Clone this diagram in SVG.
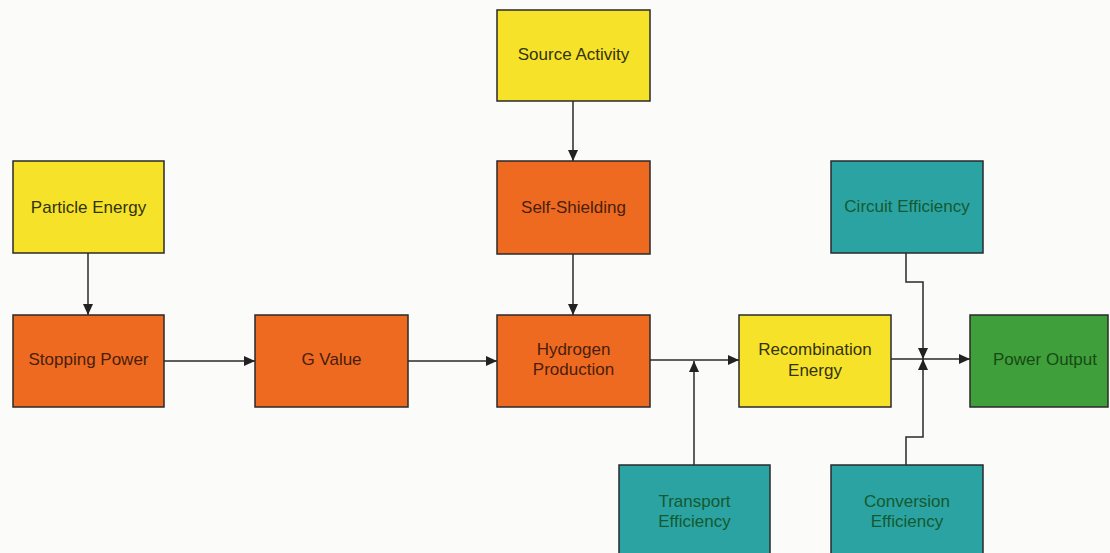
<svg xmlns="http://www.w3.org/2000/svg" width="1110" height="553" viewBox="0 0 1110 553">
<style>
.box{stroke:#2a2a2a;stroke-width:1.5}
.y{fill:#f6e229}
.o{fill:#ee6a21}
.t{fill:#2ba3a2}
.g{fill:#3f9f3a}
text{font-family:"Liberation Sans",Arial,sans-serif;font-size:17px;text-anchor:middle}
.ty{fill:#33330f}
.to{fill:#4a1e0c}
.tt{fill:#145a30}
.tg{fill:#174a14}
.c{fill:none;stroke:#2a2a2a;stroke-width:1.5}
</style>
<defs>
<marker id="ah" viewBox="0 0 11 10" refX="11" refY="5" markerWidth="11" markerHeight="10" markerUnits="userSpaceOnUse" orient="auto">
<path d="M0,0 L11,5 L0,10 z" fill="#222"/>
</marker>
</defs>
<rect width="1110" height="553" fill="#fbfbfa"/>
<g id="connectors">
<line class="c" x1="88" y1="253" x2="88" y2="315" marker-end="url(#ah)"/>
<line class="c" x1="164" y1="361" x2="255" y2="361" marker-end="url(#ah)"/>
<line class="c" x1="408" y1="361" x2="497" y2="361" marker-end="url(#ah)"/>
<line class="c" x1="573" y1="101" x2="573" y2="161" marker-end="url(#ah)"/>
<line class="c" x1="573" y1="254" x2="573" y2="315" marker-end="url(#ah)"/>
<line class="c" x1="650" y1="360" x2="739" y2="360" marker-end="url(#ah)"/>
<line class="c" x1="694" y1="465" x2="694" y2="361" marker-end="url(#ah)"/>
<line class="c" x1="891" y1="359" x2="970" y2="359" marker-end="url(#ah)"/>
<polyline class="c" points="906,253 906,282 923,282 923,359" marker-end="url(#ah)"/>
<polyline class="c" points="906,465 906,437 923,437 923,359" marker-end="url(#ah)"/>
</g>
<g id="particle-energy"><rect class="box y" x="13" y="161" width="151" height="92"/><text class="ty" x="88.5" y="213">Particle Energy</text></g>
<g id="stopping-power"><rect class="box o" x="13" y="315" width="151" height="92"/><text class="to" x="88.5" y="365">Stopping Power</text></g>
<g id="g-value"><rect class="box o" x="255" y="315" width="153" height="92"/><text class="to" x="331.5" y="365">G Value</text></g>
<g id="source-activity"><rect class="box y" x="497" y="10" width="153" height="91"/><text class="ty" x="573.5" y="60">Source Activity</text></g>
<g id="self-shielding"><rect class="box o" x="497" y="161" width="153" height="93"/><text class="to" x="573.5" y="213">Self-Shielding</text></g>
<g id="hydrogen-production"><rect class="box o" x="497" y="315" width="153" height="92"/><text class="to" x="573.5" y="355">Hydrogen</text><text class="to" x="573.5" y="375">Production</text></g>
<g id="recombination-energy"><rect class="box y" x="739" y="315" width="152" height="92"/><text class="ty" x="815" y="355">Recombination</text><text class="ty" x="815" y="376">Energy</text></g>
<g id="circuit-efficiency"><rect class="box t" x="831" y="161" width="152" height="92"/><text class="tt" x="907" y="212">Circuit Efficiency</text></g>
<g id="power-output"><rect class="box g" x="970" y="315" width="138" height="92"/><text class="tg" x="1045" y="365">Power Output</text></g>
<g id="transport-efficiency"><rect class="box t" x="619" y="465" width="151" height="95"/><text class="tt" x="694.5" y="507">Transport</text><text class="tt" x="694.5" y="527">Efficiency</text></g>
<g id="conversion-efficiency"><rect class="box t" x="831" y="465" width="152" height="95"/><text class="tt" x="907" y="507">Conversion</text><text class="tt" x="907" y="527">Efficiency</text></g>
</svg>
